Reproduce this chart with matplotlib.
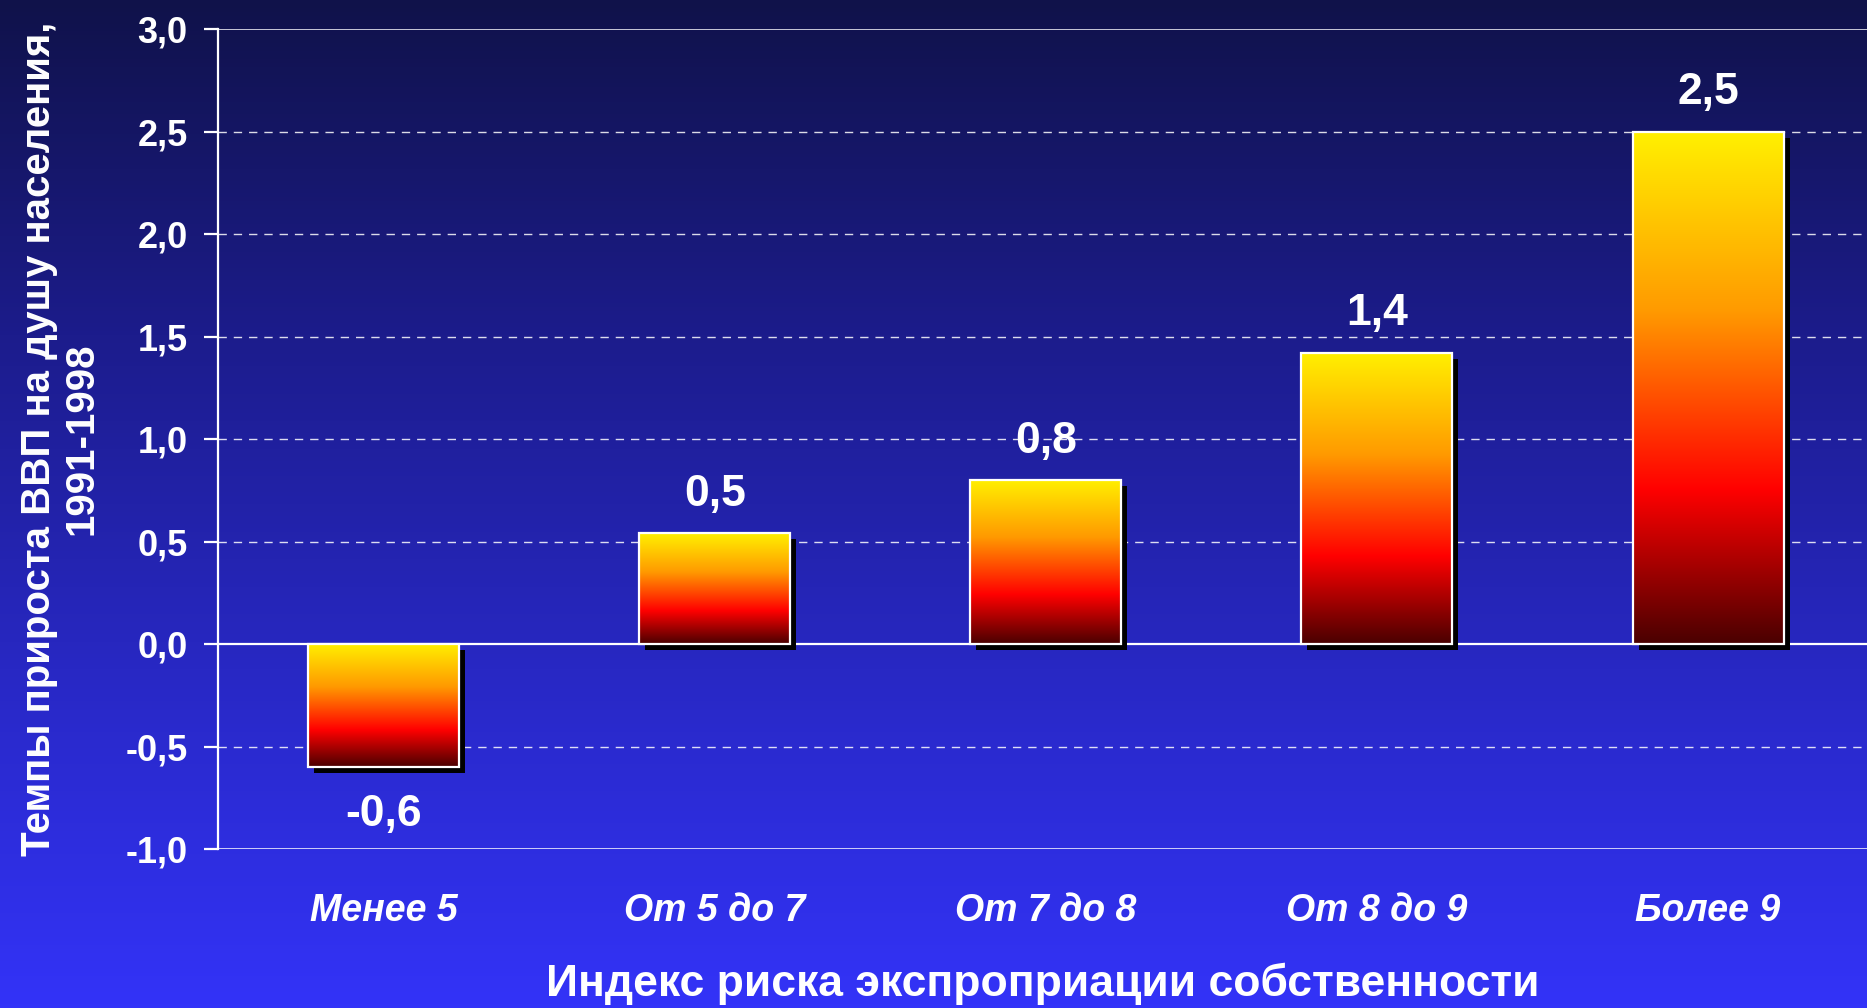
import numpy as np
import matplotlib
matplotlib.use('Agg')
from matplotlib import pyplot as plt
from matplotlib.colors import LinearSegmentedColormap
from matplotlib.patches import Rectangle
import matplotlib.transforms as mtransforms

# data
categories = ['Менее 5', 'От 5 до 7', 'От 7 до 8', 'От 8 до 9', 'Более 9']
values = [-0.6, 0.54, 0.8, 1.42, 2.5]
value_labels = ['-0,6', '0,5', '0,8', '1,4', '2,5']
y_ticks = [-1.0, -0.5, 0.0, 0.5, 1.0, 1.5, 2.0, 2.5, 3.0]
y_tick_labels = ['-1,0', '-0,5', '0,0', '0,5', '1,0', '1,5', '2,0', '2,5', '3,0']

plt.rcParams['font.family'] = ['Liberation Sans', 'DejaVu Sans']

fig = plt.figure(figsize=(18.67, 10.08), dpi=100)

# background gradient
bg_cmap = LinearSegmentedColormap.from_list(
    'bg', ['#10124a', '#1c1c8c', '#2828c4', '#3333f8'])
bg = fig.add_axes([0, 0, 1, 1], zorder=-10)
bg.imshow(np.linspace(0, 1, 256).reshape(-1, 1), aspect='auto', cmap=bg_cmap,
          extent=[0, 1, 0, 1], origin='upper')
bg.axis('off')

ax = fig.add_axes([0.1168, 0.1577, 0.8832, 0.8135])
ax.patch.set_alpha(0)

bar_cmap = LinearSegmentedColormap.from_list(
    'bar', [(0.0, '#fff000'), (0.35, '#ff9a00'), (0.7, '#ff0000'), (1.0, '#4a0000')])
grad = np.linspace(0, 1, 256).reshape(-1, 1)

width = 0.456
shadow_tr = mtransforms.offset_copy(ax.transData, fig=fig, x=6, y=-6, units='dots')
for i, v in enumerate(values):
    x0 = i - width / 2
    lo, hi = min(0, v), max(0, v)
    ax.add_patch(Rectangle((x0, lo), width, hi - lo, facecolor='black',
                           edgecolor='none', transform=shadow_tr, zorder=3))
    ax.imshow(grad, aspect='auto', cmap=bar_cmap, origin='upper',
              extent=[x0, x0 + width, lo, hi], zorder=4)
    ax.add_patch(Rectangle((x0, lo), width, hi - lo, facecolor='none',
                           edgecolor='white', linewidth=1.6, zorder=5))
    if v >= 0:
        ax.text(i, v + 0.19, value_labels[i], ha='center', va='center',
                color='white', fontsize=32, fontweight='bold', zorder=6)
    else:
        ax.text(i, v - 0.23, value_labels[i], ha='center', va='center',
                color='white', fontsize=32, fontweight='bold', zorder=6)

ax.set_xlim(-0.5, 4.48)
ax.set_ylim(-1.0, 3.0)

# grid lines
for t in y_ticks:
    if t == 0.0:
        ax.axhline(t, color='white', linewidth=1.6, zorder=2)
    elif t in (-1.0, 3.0):
        ax.axhline(t, color='white', linewidth=1.2, alpha=0.9, zorder=1)
    else:
        ax.axhline(t, color='white', linewidth=1.0, alpha=0.85,
                   dashes=(6, 5), zorder=1)

for s in ['top', 'right', 'bottom']:
    ax.spines[s].set_visible(False)
ax.spines['left'].set_color('white')
ax.spines['left'].set_linewidth(1.6)

ax.set_yticks(y_ticks)
ax.set_yticklabels(y_tick_labels)
ax.tick_params(axis='y', colors='white', length=10, width=1.6, pad=12,
               labelsize=26)
for lbl in ax.get_yticklabels():
    lbl.set_fontweight('bold')

ax.set_xticks(range(len(categories)))
ax.set_xticklabels(categories)
ax.tick_params(axis='x', length=0, pad=32, labelsize=27, colors='white')
for lbl in ax.get_xticklabels():
    lbl.set_fontweight('bold')
    lbl.set_fontstyle('italic')

ax.set_xlabel('Индекс риска экспроприации собственности', color='white',
              fontsize=32, fontweight='bold', labelpad=24)
ax.set_ylabel('Темпы прироста ВВП на душу населения,\n1991-1998', color='white',
              fontsize=29, fontweight='bold', labelpad=18, linespacing=1.15)

fig.savefig('out.png', dpi=100)
